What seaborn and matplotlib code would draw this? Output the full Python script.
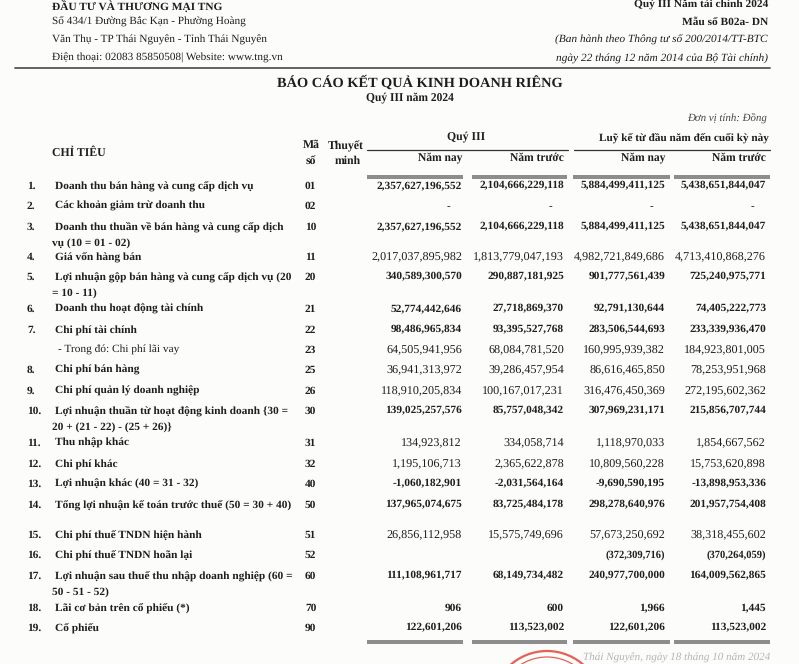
import matplotlib
matplotlib.use("Agg")
import matplotlib.pyplot as plt
from matplotlib.patches import Circle
import seaborn as sns

sns.set_theme(style="white")
plt.rcParams['font.family'] = ['Liberation Serif', 'DejaVu Serif']
plt.rcParams['text.hinting'] = 'no_hinting'

# ── data ───────────────────────────────────────────────────
ITEM_NO = ['1.', '2.', '3.', '4.', '5.', '6.', '7.', '', '8.', '9.', '10.',
           '11.', '12.', '13.', '14.', '15.', '16.', '17.', '18.', '19.']
LABELS = [
    'Doanh thu bán hàng và cung cấp dịch vụ',
    'Các khoản giảm trừ doanh thu',
    'Doanh thu thuần về bán hàng và cung cấp dịch\nvụ (10 = 01 - 02)',
    'Giá vốn hàng bán',
    'Lợi nhuận gộp bán hàng và cung cấp dịch vụ (20\n= 10 - 11)',
    'Doanh thu hoạt động tài chính',
    'Chi phí tài chính',
    '- Trong đó: Chi phí lãi vay',
    'Chi phí bán hàng',
    'Chi phí quản lý doanh nghiệp',
    'Lợi nhuận thuần từ hoạt động kinh doanh {30 =\n20 + (21 - 22) - (25 + 26)}',
    'Thu nhập khác',
    'Chi phí khác',
    'Lợi nhuận khác (40 = 31 - 32)',
    'Tổng lợi nhuận kế toán trước thuế (50 = 30 + 40)',
    'Chi phí thuế TNDN hiện hành',
    'Chi phí thuế TNDN hoãn lại',
    'Lợi nhuận sau thuế thu nhập doanh nghiệp (60 =\n50 - 51 - 52)',
    'Lãi cơ bản trên cổ phiếu (*)',
    'Cổ phiếu',
]
CODES = ['01', '02', '10', '11', '20', '21', '22', '23', '25', '26', '30',
         '31', '32', '40', '50', '51', '52', '60', '70', '90']
# 0 is printed as "-", None as blank
Q3_THIS = [2357627196552, 0, 2357627196552, 2017037895982, 340589300570,
           52774442646, 98486965834, 64505941956, 36941313972, 118910205834,
           139025257576, 134923812, 1195106713, -1060182901, 137965074675,
           26856112958, None, 111108961717, 906, 122601206]
Q3_PREV = [2104666229118, 0, 2104666229118, 1813779047193, 290887181925,
           27718869370, 93395527768, 68084781520, 39286457954, 100167017231,
           85757048342, 334058714, 2365622878, -2031564164, 83725484178,
           15575749696, None, 68149734482, 600, 113523002]
YTD_THIS = [5884499411125, 0, 5884499411125, 4982721849686, 901777561439,
            92791130644, 283506544693, 160995939382, 86616465850, 316476450369,
            307969231171, 1118970033, 10809560228, -9690590195, 298278640976,
            57673250692, -372309716, 240977700000, 1966, 122601206]
YTD_PREV = [5438651844047, 0, 5438651844047, 4713410868276, 725240975771,
            74405222773, 233339936470, 184923801005, 78253951968, 272195602362,
            215856707744, 1854667562, 15753620898, -13898953336, 201957754408,
            38318455602, -370264059, 164009562865, 1445, 113523002]
BOLD_VALUES = ['01', '02', '10', '20', '21', '22', '30', '40', '50', '52', '60', '70', '90']
PAREN_CODES = ['52']

# ── layout ─────────────────────────────────────────────────
ROW_Y = [186, 206, 227, 257, 277, 309, 330, 350, 370, 391, 411,
         443, 464, 484, 505, 535, 555, 576, 608, 628]
COL_RIGHT = [462, 564, 665, 766]
INK = '#1e1e1e'
SEG = [(367, 463), (472, 567), (573, 670), (674, 770)]
LBL_FS = 8.2


def fmt(v, code):
    if v is None:
        return ''
    if v == 0:
        return '-'
    if v < 0 and code in PAREN_CODES:
        return f'({-v:,})'
    return f'{v:,}'


fig = plt.figure(figsize=(7.99, 6.64), dpi=100)
fig.patch.set_facecolor('#fcfcfb')
ax = fig.add_axes([0, 0, 1, 1])
ax.set_xlim(0, 799)
ax.set_ylim(664, 0)
ax.axis('off')

# ── page header ────────────────────────────────────────────
ax.text(52, 6, 'ĐẦU TƯ VÀ THƯƠNG MẠI TNG', fontsize=8.2, fontweight='bold', color=INK, va='center')
for y, s in [(22, 'Số 434/1 Đường Bắc Kạn - Phường Hoàng'),
             (40, 'Văn Thụ - TP Thái Nguyên - Tỉnh Thái Nguyên'),
             (58, 'Điện thoại: 02083 85850508| Website: www.tng.vn')]:
    ax.text(52, y, s, fontsize=8.1, color=INK, va='center')
ax.text(768, 5, 'Quý III Năm tài chính 2024', fontsize=8.2, fontweight='bold', color=INK, ha='right', va='center')
ax.text(768, 22, 'Mẫu số B02a- DN', fontsize=8.2, fontweight='bold', color=INK, ha='right', va='center')
ax.text(768, 40, '(Ban hành theo Thông tư số 200/2014/TT-BTC', fontsize=8.2, style='italic', color=INK, ha='right', va='center')
ax.text(768, 59, 'ngày 22 tháng 12 năm 2014 của Bộ Tài chính)', fontsize=8.2, style='italic', color=INK, ha='right', va='center')
ax.plot([15, 770], [68, 68], color='#555555', lw=1.3)

ax.text(420, 82, 'BÁO CÁO KẾT QUẢ KINH DOANH RIÊNG', fontsize=10.4, fontweight='bold', color=INK, ha='center', va='center')
ax.text(410, 98, 'Quý III năm 2024', fontsize=8.3, fontweight='bold', color=INK, ha='center', va='center')
ax.text(767, 119, 'Đơn vị tính: Đồng', fontsize=7.8, style='italic', color='#444444', ha='right', va='center')

# ── table header ───────────────────────────────────────────
ax.text(52, 153, 'CHỈ TIÊU', fontsize=8.5, fontweight='bold', color=INK, va='center')
ax.text(311, 145, 'Mã', fontsize=8.5, fontweight='bold', color=INK, ha='center', va='center')
ax.text(311, 161, 'số', fontsize=8.5, fontweight='bold', color=INK, ha='center', va='center')
ax.text(346, 146, 'Thuyết', fontsize=8.5, fontweight='bold', color=INK, ha='center', va='center')
ax.text(348, 161, 'minh', fontsize=8.5, fontweight='bold', color=INK, ha='center', va='center')
ax.text(466, 137, 'Quý III', fontsize=8.5, fontweight='bold', color=INK, ha='center', va='center')
ax.text(684, 138, 'Luỹ kế từ đầu năm đến cuối kỳ này', fontsize=8.1, fontweight='bold', color=INK, ha='center', va='center')
ax.plot([367, 568], [150, 150], color='#333333', lw=0.9)
ax.plot([574, 770], [150, 150], color='#333333', lw=0.9)
for xr, s in zip(COL_RIGHT, ['Năm nay', 'Năm trước', 'Năm nay', 'Năm trước']):
    ax.text(xr, 158, s, fontsize=8.3, fontweight='bold', color=INK, ha='right', va='center')


def double_rule(y):
    for x0, x1 in SEG:
        ax.plot([x0, x1], [y - 1.2, y - 1.2], color='#777777', lw=1.2, solid_capstyle='butt')
        ax.plot([x0, x1], [y + 1.2, y + 1.2], color='#777777', lw=1.2, solid_capstyle='butt')


double_rule(177)

# ── table body ─────────────────────────────────────────────
for i, code in enumerate(CODES):
    y = ROW_Y[i]
    ax.text(27, y, ITEM_NO[i], fontsize=LBL_FS, fontweight='bold', color=INK, va='center')
    lines = LABELS[i].split('\n')
    sub = LABELS[i].startswith('-')
    ax.text(58 if sub else 55, y, lines[0], fontsize=LBL_FS, color=INK, va='center',
            fontweight='normal' if sub else 'bold')
    if len(lines) > 1:
        ax.text(52, y + 16, lines[1], fontsize=LBL_FS, fontweight='bold', color=INK, va='center')
    ax.text(305, y, code, fontsize=LBL_FS, fontweight='bold', color=INK, va='center')
    bold = code in BOLD_VALUES
    for xr, col in zip(COL_RIGHT, [Q3_THIS, Q3_PREV, YTD_THIS, YTD_PREV]):
        s = fmt(col[i], code)
        if s == '-':
            ax.text(xr - 12, y, s, fontsize=8, color=INK, ha='right', va='center')
        elif s:
            if code in PAREN_CODES:
                fs = 7.6
            else:
                fs = 8.2 if bold else 8.7
            ax.text(xr, y, s, fontsize=fs, fontweight='bold' if bold else 'normal',
                    color=INK, ha='right', va='center')

double_rule(642)

# ── stamp remnant at the bottom ────────────────────────────
for r, lw in [(55, 1.6), (49, 0.9)]:
    ax.add_patch(Circle((547, 706), r, fill=False, ec='#e0463c', lw=lw, alpha=0.85))
ax.text(770, 658, 'Thái Nguyên, ngày 18 tháng 10 năm 2024', fontsize=8, style='italic',
        color='#b5b5b5', ha='right', va='center')

plt.savefig('out.png', dpi=100, facecolor=fig.get_facecolor())
plt.close()
